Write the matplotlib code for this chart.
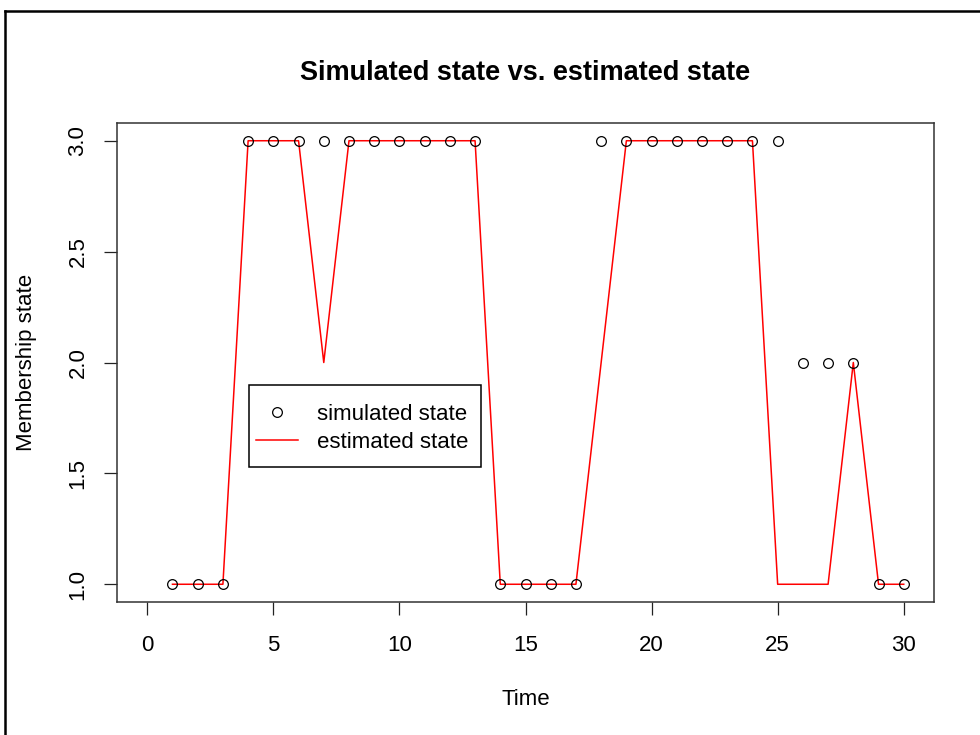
import matplotlib
matplotlib.use("Agg")
import matplotlib.pyplot as plt
from matplotlib.lines import Line2D
from matplotlib.patches import Rectangle

plt.rcParams['font.family'] = ['Liberation Sans', 'DejaVu Sans']

# Time steps and the two state sequences
time = list(range(1, 31))
simulated = [1, 1, 1, 3, 3, 3, 3, 3, 3, 3, 3, 3, 3, 1, 1, 1, 1, 3, 3, 3,
             3, 3, 3, 3, 3, 2, 2, 2, 1, 1]
estimated = [1, 1, 1, 3, 3, 3, 2, 3, 3, 3, 3, 3, 3, 1, 1, 1, 1, 2, 3, 3,
             3, 3, 3, 3, 1, 1, 1, 2, 1, 1]

x_ticks = [0, 5, 10, 15, 20, 25, 30]
y_ticks = [1.0, 1.5, 2.0, 2.5, 3.0]
y_tick_labels = ["1.0", "1.5", "2.0", "2.5", "3.0"]

W, H = 980, 735
fig = plt.figure(figsize=(W / 100, H / 100), dpi=100)
ax = fig.add_axes([117 / W, 1 - 602 / H, (934 - 117) / W, (602 - 123) / H])

ax.plot(time, simulated, linestyle='none', marker='o', markersize=7,
        markerfacecolor='none', markeredgecolor='black', markeredgewidth=0.9,
        label='simulated state', zorder=3)
ax.plot(time, estimated, color='red', linewidth=1.1, label='estimated state',
        zorder=2)

ax.set_xlim(-1.2, 31.2)
ax.set_ylim(0.92, 3.08)
ax.set_xticks(x_ticks)
ax.set_yticks(y_ticks)
ax.set_yticklabels(y_tick_labels, rotation=90, va='center')

ax.tick_params(axis='both', direction='out', length=9.5, width=0.9,
               labelsize=16, color='#222222')
ax.tick_params(axis='x', pad=14)
ax.tick_params(axis='y', pad=11)
for s in ax.spines.values():
    s.set_linewidth(1.1)
    s.set_color('#333333')

ax.set_title("Simulated state vs. estimated state", fontsize=19.5,
             fontweight='bold', pad=31)
ax.set_xlabel("Time", fontsize=16, labelpad=24)
ax.set_ylabel("Membership state", fontsize=16, labelpad=22)

# legend entries without their own frame; the box is drawn separately
leg = ax.legend(loc='upper left', bbox_to_anchor=(256 / W, 1 - 404 / H),
                bbox_transform=fig.transFigure, fontsize=16, frameon=False,
                handlelength=1.9, handletextpad=0.85,
                labelspacing=0.3, borderpad=0, borderaxespad=0)
fig.add_artist(Rectangle((249 / W, 1 - 467 / H), (481 - 249) / W,
                         (467 - 385) / H, fill=False, edgecolor='black',
                         linewidth=1.1, transform=fig.transFigure))

# outer frame lines on the left and top of the canvas
fig.add_artist(Line2D([4.5 / W, 4.5 / W], [0, 1 - 11 / H], color='black',
                      linewidth=1.8, transform=fig.transFigure))
fig.add_artist(Line2D([4.5 / W, 1], [1 - 11 / H, 1 - 11 / H], color='black',
                      linewidth=1.8, transform=fig.transFigure))

fig.savefig("out.png", dpi=100)
